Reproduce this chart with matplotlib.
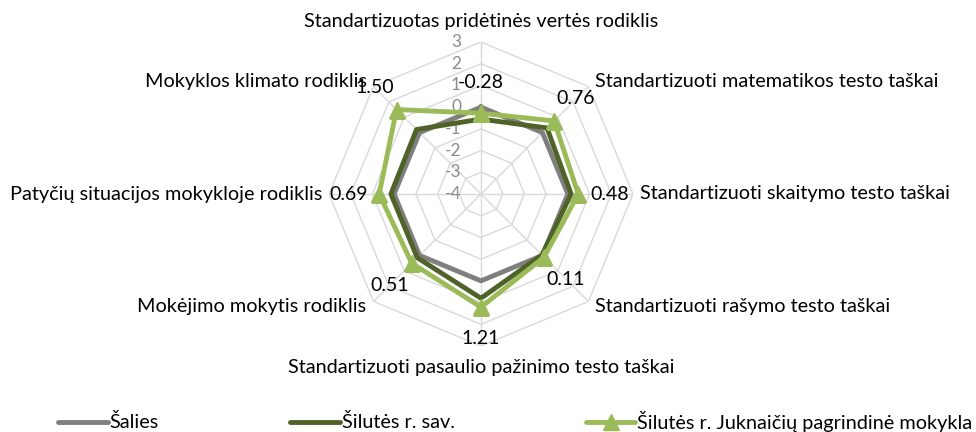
import numpy as np
import matplotlib
matplotlib.use("Agg")
import matplotlib.pyplot as plt
from matplotlib.lines import Line2D
from matplotlib.transforms import offset_copy

plt.rcParams['font.family'] = ['Lato', 'DejaVu Sans']

categories = [
    "Standartizuotas pridėtinės vertės rodiklis",
    "Standartizuoti matematikos testo taškai",
    "Standartizuoti skaitymo testo taškai",
    "Standartizuoti rašymo testo taškai",
    "Standartizuoti pasaulio pažinimo testo taškai",
    "Mokėjimo mokytis rodiklis",
    "Patyčių situacijos mokykloje rodiklis",
    "Mokyklos klimato rodiklis",
]
series_names = ["Šalies", "Šilutės r. sav.", "Šilutės r. Juknaičių pagrindinė mokykla"]
salies = [0, 0, 0, 0, 0, 0, 0, 0]
savivaldybe = [-0.55, 0.3, 0.15, -0.03, 0.8, 0.15, 0.15, 0.2]
mokykla = [-0.28, 0.76, 0.48, 0.11, 1.21, 0.51, 0.69, 1.50]
r_ticks = [3, 2, 1, 0, -1, -2, -3, -4]

W, H = 976, 432
fig = plt.figure(figsize=(W / 100, H / 100), dpi=100)
cx, cy, R = 481, 194, 152
ax = fig.add_axes([(cx - R) / W, (H - cy - R) / H, 2 * R / W, 2 * R / H], projection='polar')
ax.set_theta_zero_location('N')
ax.set_theta_direction(-1)
ax.set_ylim(-4, 3)
ax.grid(False)
ax.set_xticks([])
ax.set_yticks([])
ax.spines['polar'].set_visible(False)
ax.patch.set_alpha(0)

n = len(categories)
ang = np.linspace(0, 2 * np.pi, n, endpoint=False)
angc = np.concatenate([ang, ang[:1]])

grid_c = '#D9D9D9'
for lv in r_ticks:
    if lv > -4:
        ax.plot(angc, [lv] * (n + 1), color=grid_c, lw=1.0, zorder=1)
for a in ang:
    ax.plot([a, a], [-4, 3], color=grid_c, lw=1.0, zorder=1)

def close(v):
    return list(v) + [v[0]]

LW = 3.5
ax.plot(angc, close(salies), color='#7F7F7F', lw=LW, zorder=3, solid_joinstyle='round')
ax.plot(angc, close(savivaldybe), color='#4F6228', lw=LW, zorder=4, solid_joinstyle='round')
ax.plot(angc, close(mokykla), color='#9BBB59', lw=LW, zorder=5, marker='^', markersize=11,
        solid_joinstyle='round')

# radial tick labels
for lv in r_ticks:
    tr = offset_copy(ax.transData, fig=fig, x=-20, y=0, units='dots')
    ax.text(0, lv, str(lv), transform=tr, ha='right', va='center', fontsize=12.5,
            color='#8C8C8C', zorder=2)

# data labels
for a, v in zip(ang, mokykla):
    tr = offset_copy(ax.transData, fig=fig, x=31 * np.sin(a), y=31 * np.cos(a), units='dots')
    ax.text(a, v, f"{v:.2f}", transform=tr, ha='center', va='center', fontsize=14,
            color='black', zorder=6)

# category labels
for a, lab in zip(ang, categories):
    s, c = np.sin(a), np.cos(a)
    if abs(s) < 0.1:
        dx, dy, ha = 0, 21 * np.sign(c), 'center'
    else:
        dx = 7 * np.sign(s)
        dy = 5 * np.sign(c) if abs(c) > 0.1 else 0
        ha = 'left' if s > 0 else 'right'
    tr = offset_copy(ax.transData, fig=fig, x=dx, y=dy, units='dots')
    ax.text(a, 3, lab, transform=tr, ha=ha, va='center', fontsize=14.3, color='black')

handles = [
    Line2D([], [], color='#7F7F7F', lw=LW, solid_capstyle='round'),
    Line2D([], [], color='#4F6228', lw=LW, solid_capstyle='round'),
    Line2D([], [], color='#9BBB59', lw=LW, marker='^', markersize=11, solid_capstyle='round'),
]
fig.legend(handles, series_names, loc='center left', bbox_to_anchor=(58 / W, 1 - 421 / H),
           ncol=3, frameon=False, fontsize=14.3, handlelength=2.5, handletextpad=0.1,
           columnspacing=6.6, borderpad=0, borderaxespad=0, numpoints=1)

fig.savefig('out.png', dpi=100)
